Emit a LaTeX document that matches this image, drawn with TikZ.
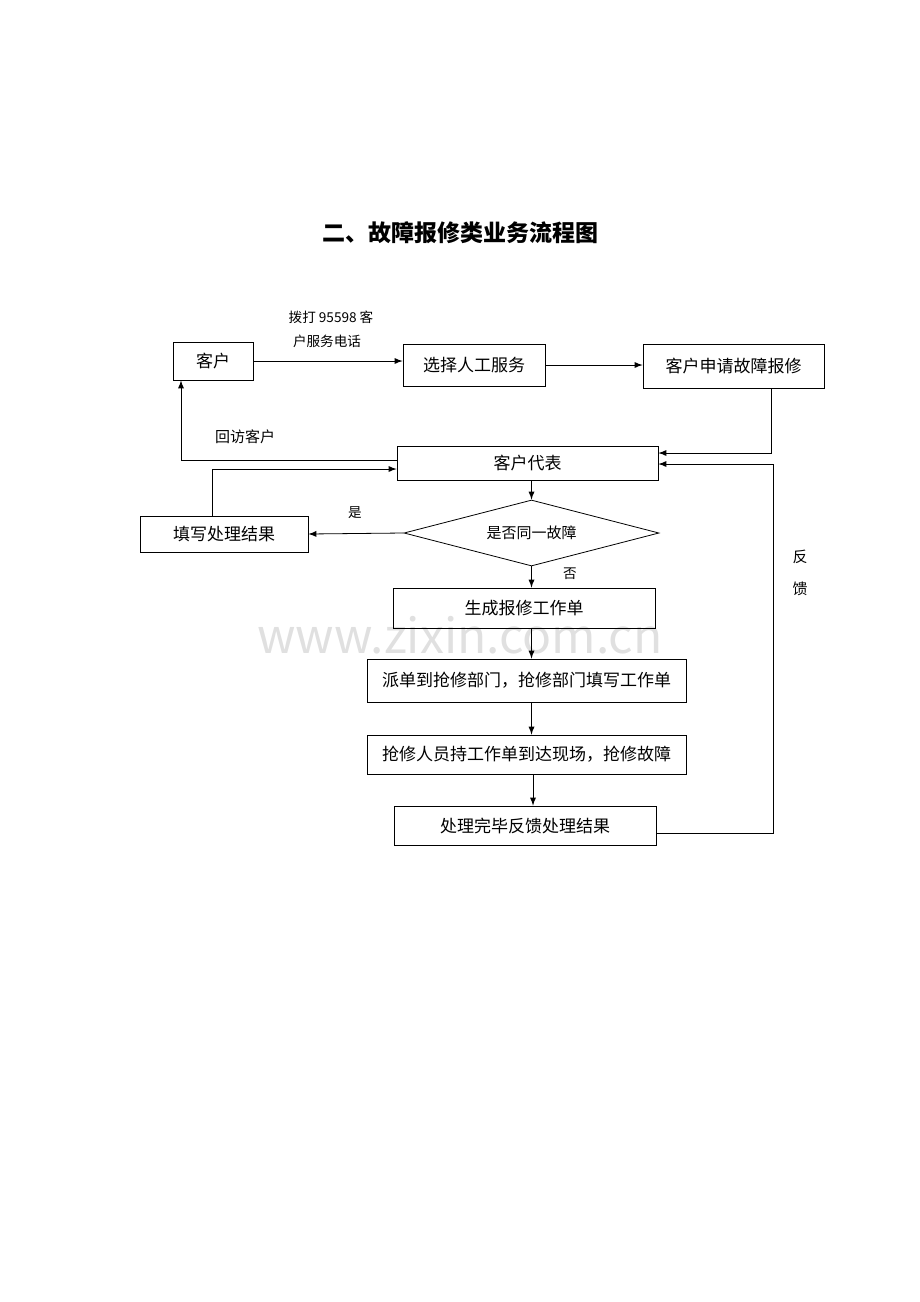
\documentclass[tikz,border=0pt]{standalone}
\usepackage{fontspec}
\setmainfont{Noto Sans CJK SC}
\usetikzlibrary{shapes.geometric}
\begin{document}
\begin{tikzpicture}%
        [x=0.5pt, y=-0.5pt,
        box/.style={draw, thin, minimum height=19pt, inner sep=0pt, font=\fontsize{8.5}{10}\selectfont},
        lab/.style={font=\fontsize{6.8}{8}\selectfont, inner sep=0pt},
        link/.style={thin, -latex}]
    %
    \useasboundingbox (0,0) rectangle (920,1302);
    %% Title and watermark
    \node[font=\fontsize{11.5}{13}\selectfont\bfseries] (title) at (460,233) {二、故障报修类业务流程图};
    \node[font=\fontsize{24}{26}\selectfont, text=black!12] (mark) at (460,635) {www.zixin.com.cn};
    %% Boxes
    \node[box, minimum width=40pt] (kehu) at (213,361) {客户};
    \node[box, minimum width=71pt, minimum height=21pt] (xuanze) at (474,365) {选择人工服务};
    \node[box, minimum width=90.5pt, minimum height=22pt] (shenqing) at (733.5,366) {客户申请故障报修};
    \node[box, minimum width=130.5pt, minimum height=17pt] (daibiao) at (527.5,463) {客户代表};
    \node[draw, thin, diamond, aspect=3.86, minimum width=127.5pt, minimum height=33pt, inner sep=0pt,
          font=\fontsize{7.5}{9}\selectfont] (tongyi) at (531.5,533) {是否同一故障};
    \node[box, minimum width=84pt, minimum height=18pt] (tianxie) at (224,534) {填写处理结果};
    \node[box, minimum width=131pt, minimum height=20pt] (shengcheng) at (524,608) {生成报修工作单};
    \node[box, minimum width=159.5pt, minimum height=21.5pt] (paidan) at (526.5,680.5) {派单到抢修部门，抢修部门填写工作单};
    \node[box, minimum width=159.5pt, minimum height=19.5pt] (qiangxiu) at (526.5,754.5) {抢修人员持工作单到达现场，抢修故障};
    \node[box, minimum width=131pt, minimum height=19.5pt] (wanbi) at (525,825.5) {处理完毕反馈处理结果};
    %% Labels
    \node[lab] (bodaA) at (331,317) {拨打 95598 客};
    \node[lab] (bodaB) at (327,341) {户服务电话};
    \node[lab, font=\fontsize{7.5}{9}\selectfont] (huifang) at (245,437) {回访客户};
    \node[lab] (shi) at (355,513) {是};
    \node[lab] (fou) at (570,574) {否};
    \node[lab, font=\fontsize{7.5}{9}\selectfont] (fan) at (800,557) {反};
    \node[lab, font=\fontsize{7.5}{9}\selectfont] (kui) at (800,589) {馈};
    %% Connectors
    \coordinate (c1) at (771,453);
    \coordinate (c2) at (181,460);
    \coordinate (c3) at (212,469);
    \coordinate (c4) at (773,833);
    \coordinate (c5) at (773,464);
    \draw[link] (kehu.east) -- (xuanze.west |- kehu.east);
    \draw[link] (xuanze.east) -- (shenqing.west |- xuanze.east);
    \draw[link] (shenqing.south -| c1) -- (c1) -- (daibiao.east |- c1);
    \draw[link] (daibiao.west |- c2) -- (c2) -- (kehu.south -| c2);
    \draw[link] (tianxie.north -| c3) -- (c3) -- (daibiao.west |- c3);
    \draw[link] (daibiao.south -| tongyi.north) -- (tongyi.north);
    \draw[link] (tongyi.west) -- (tianxie.east);
    \draw[link] (tongyi.south) -- (shengcheng.north -| tongyi.south);
    \draw[link] (shengcheng.south -| tongyi.south) -- (paidan.north -| tongyi.south);
    \draw[link] (paidan.south -| tongyi.south) -- (qiangxiu.north -| tongyi.south);
    \draw[link] (qiangxiu.south -| 533,0) -- (wanbi.north -| 533,0);
    \draw[link] (wanbi.east |- c4) -- (c4) -- (c5) -- (daibiao.east |- c5);
\end{tikzpicture}
\end{document}
